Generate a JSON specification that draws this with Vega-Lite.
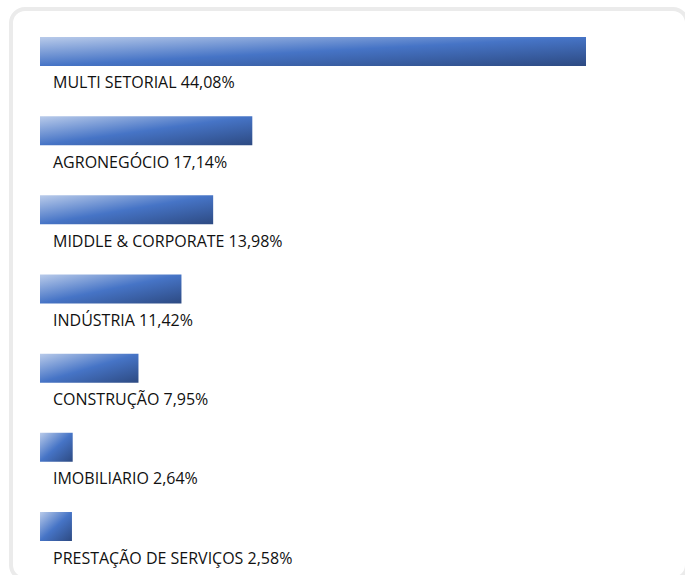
{
  "$schema": "https://vega.github.io/schema/vega-lite/v6.json",
  "autosize": "none",
  "width": 676,
  "height": 570,
  "padding": {"left": 11, "top": 9, "right": 0, "bottom": 0},
  "background": "white",
  "config": {
    "view": {"stroke": "#ebebeb", "strokeWidth": 4, "cornerRadius": 14},
    "text": {"font": "Open Sans"}
  },
  "data": {
    "values": [
      {"setor": "MULTI SETORIAL", "pct": 44.08, "label": "MULTI SETORIAL 44,08%"},
      {"setor": "AGRONEGÓCIO", "pct": 17.14, "label": "AGRONEGÓCIO 17,14%"},
      {"setor": "MIDDLE & CORPORATE", "pct": 13.98, "label": "MIDDLE & CORPORATE 13,98%"},
      {"setor": "INDÚSTRIA", "pct": 11.42, "label": "INDÚSTRIA 11,42%"},
      {"setor": "CONSTRUÇÃO", "pct": 7.95, "label": "CONSTRUÇÃO 7,95%"},
      {"setor": "IMOBILIARIO", "pct": 2.64, "label": "IMOBILIARIO 2,64%"},
      {"setor": "PRESTAÇÃO DE SERVIÇOS", "pct": 2.58, "label": "PRESTAÇÃO DE SERVIÇOS 2,58%"}
    ]
  },
  "encoding": {
    "y": {
      "field": "setor", "type": "nominal", "sort": null, "axis": null,
      "scale": {"range": [28, 532], "paddingInner": 0.634, "paddingOuter": 0}
    }
  },
  "layer": [
    {
      "mark": {
        "type": "bar",
        "color": {
          "gradient": "linear", "x1": 0, "y1": 0, "x2": 1, "y2": 1,
          "stops": [
            {"offset": 0, "color": "#b9cbea"},
            {"offset": 0.5, "color": "#4674c6"},
            {"offset": 1, "color": "#2d4a82"}
          ]
        }
      },
      "encoding": {
        "x": {"field": "pct", "type": "quantitative", "axis": null,
              "scale": {"domain": [0, 44.08], "range": [29, 575], "zero": true, "nice": false}}
      }
    },
    {
      "mark": {"type": "text", "align": "left", "baseline": "middle", "dx": 13, "yOffset": 32, "fontSize": 16, "color": "#111111"},
      "encoding": {
        "x": {"datum": 0, "type": "quantitative"},
        "text": {"field": "label"}
      }
    }
  ]
}
